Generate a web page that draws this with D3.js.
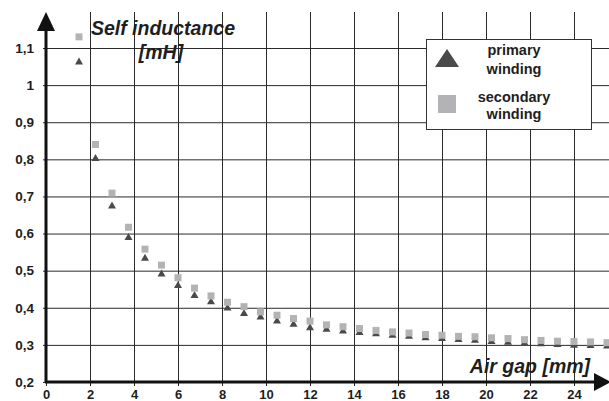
<!DOCTYPE html>
<html>
<head>
<meta charset="utf-8">
<script src="https://cdn.jsdelivr.net/npm/d3@7"></script>
<style>
  body { margin: 0; background: #fff; }
</style>
</head>
<body>
<div id="chart"></div>
<script>
// air gap in mm
var gap = [1.5, 2.25, 3, 3.75, 4.5, 5.25, 6, 6.75, 7.5, 8.25, 9, 9.75, 10.5, 11.25, 12, 12.75,
  13.5, 14.25, 15, 15.75, 16.5, 17.25, 18, 18.75, 19.5, 20.25, 21, 21.75, 22.5, 23.25, 24, 24.75, 25.5];
// self inductance in mH
var primary = [1.065, 0.805, 0.677, 0.592, 0.536, 0.494, 0.463, 0.436, 0.419, 0.402, 0.387, 0.378,
  0.367, 0.358, 0.349, 0.345, 0.340, 0.336, 0.333, 0.329, 0.326, 0.322, 0.320, 0.317, 0.315, 0.312,
  0.310, 0.308, 0.306, 0.304, 0.302, 0.301, 0.300];
var secondary = [1.13, 0.84, 0.709, 0.617, 0.558, 0.515, 0.481, 0.453, 0.432, 0.415, 0.403, 0.389,
  0.380, 0.371, 0.364, 0.354, 0.349, 0.344, 0.339, 0.335, 0.332, 0.328, 0.326, 0.323, 0.322, 0.319,
  0.317, 0.314, 0.312, 0.310, 0.309, 0.308, 0.306];
var xTicks = [0, 2, 4, 6, 8, 10, 12, 14, 16, 18, 20, 22, 24];
var yTicks = [0.2, 0.3, 0.4, 0.5, 0.6, 0.7, 0.8, 0.9, 1, 1.1];
var seriesNames = ["primary winding", "secondary winding"];

var W = 609, H = 401;
var FONT = "'Liberation Sans', Arial, sans-serif";
var x = d3.scaleLinear().domain([0, 24]).range([46, 574]);
var y = d3.scaleLinear().domain([0.2, 1.1]).range([382, 48]);
var comma = d => String(d).replace(".", ",");

var svg = d3.select("#chart").append("svg")
  .attr("width", W).attr("height", H);

function boldText(sel, size) {
  sel.attr("font-family", FONT).attr("font-weight", "bold").attr("font-size", size).attr("fill", "#1e1e1e");
}

// grid (vertical)
svg.append("g")
  .attr("transform", "translate(0," + y(0.2) + ")")
  .call(d3.axisBottom(x).tickValues(xTicks.slice(1)).tickSize(-(y(0.2) - 12)).tickFormat(""))
  .call(g => g.select(".domain").remove())
  .call(g => g.selectAll("line").attr("stroke", "#2a2a2a").attr("stroke-width", 1));

// grid (horizontal) with small ticks left of axis
svg.append("g")
  .attr("transform", "translate(" + W + ",0)")
  .call(d3.axisLeft(y).tickValues(yTicks).tickSize(W - x(0) + 3).tickFormat(""))
  .call(g => g.select(".domain").remove())
  .call(g => g.selectAll("line").attr("stroke", "#2a2a2a").attr("stroke-width", 1));

// y tick labels
svg.append("g")
  .attr("transform", "translate(" + x(0) + ",0)")
  .call(d3.axisLeft(y).tickValues(yTicks).tickSize(0).tickPadding(12).tickFormat(comma))
  .call(g => g.select(".domain").remove())
  .call(g => boldText(g.selectAll("text"), 13.5));

// x tick labels
svg.append("g")
  .attr("transform", "translate(0," + y(0.2) + ")")
  .call(d3.axisBottom(x).tickValues(xTicks).tickSize(4).tickPadding(4).tickFormat(d => d))
  .call(g => g.select(".domain").remove())
  .call(g => g.selectAll("line").attr("stroke", "#222"))
  .call(g => boldText(g.selectAll("text"), 13));

// axes with arrows
svg.append("line").attr("x1", x(0)).attr("x2", x(0)).attr("y1", y(0.2) + 1).attr("y2", 28)
  .attr("stroke", "#111").attr("stroke-width", 3);
svg.append("path").attr("d", "M" + x(0) + ",12L" + (x(0) + 9) + ",31L" + (x(0) - 9) + ",31Z").attr("fill", "#111");
svg.append("line").attr("x1", x(0) - 1).attr("x2", 596).attr("y1", y(0.2)).attr("y2", y(0.2))
  .attr("stroke", "#111").attr("stroke-width", 3);
svg.append("path").attr("d", "M611," + y(0.2) + "L594," + (y(0.2) - 9) + "L594," + (y(0.2) + 9) + "Z").attr("fill", "#111");

// markers
var tri = (cx, cy, w, h) => "M" + cx + "," + (cy - h / 2) + "L" + (cx + w / 2) + "," + (cy + h / 2) + "L" + (cx - w / 2) + "," + (cy + h / 2) + "Z";

svg.append("g").selectAll("path").data(gap.map((g, i) => [g, primary[i]]))
  .enter().append("path")
  .attr("d", d => tri(x(d[0]), y(d[1]), 8, 7))
  .attr("fill", "#4a4a4a");

svg.append("g").selectAll("rect").data(gap.map((g, i) => [g, secondary[i]]))
  .enter().append("rect")
  .attr("x", d => x(d[0]) - 3.5).attr("y", d => y(d[1]) - 3.5)
  .attr("width", 7).attr("height", 7)
  .attr("fill", "#b3b3b5");

// axis titles
svg.append("text").attr("x", 163).attr("y", 35).attr("text-anchor", "middle")
  .attr("font-style", "italic").text("Self inductance").call(boldText, 19.5);
svg.append("text").attr("x", 161).attr("y", 59).attr("text-anchor", "middle")
  .attr("font-style", "italic").text("[mH]").call(boldText, 19.5);
svg.append("text").attr("x", 530).attr("y", 373).attr("text-anchor", "middle")
  .attr("font-style", "italic").text("Air gap [mm]").call(boldText, 19.5);

// legend
var lg = svg.append("g");
lg.append("rect").attr("x", 426.5).attr("y", 39.5).attr("width", 165).attr("height", 90)
  .attr("fill", "#fff").attr("stroke", "#333").attr("stroke-width", 1);
lg.append("path").attr("d", tri(447, 58, 24, 18)).attr("fill", "#4a4a4a");
lg.append("rect").attr("x", 438).attr("y", 95).attr("width", 18).attr("height", 18).attr("fill", "#b3b3b5");
var lines = seriesNames.map(s => s.split(" "));
[[55, 74], [102, 119]].forEach((ys, i) => {
  lines[i].forEach((t, j) => {
    lg.append("text").attr("x", 514).attr("y", ys[j]).attr("text-anchor", "middle")
      .text(t).call(boldText, 14.5);
  });
});
</script>
</body>
</html>
